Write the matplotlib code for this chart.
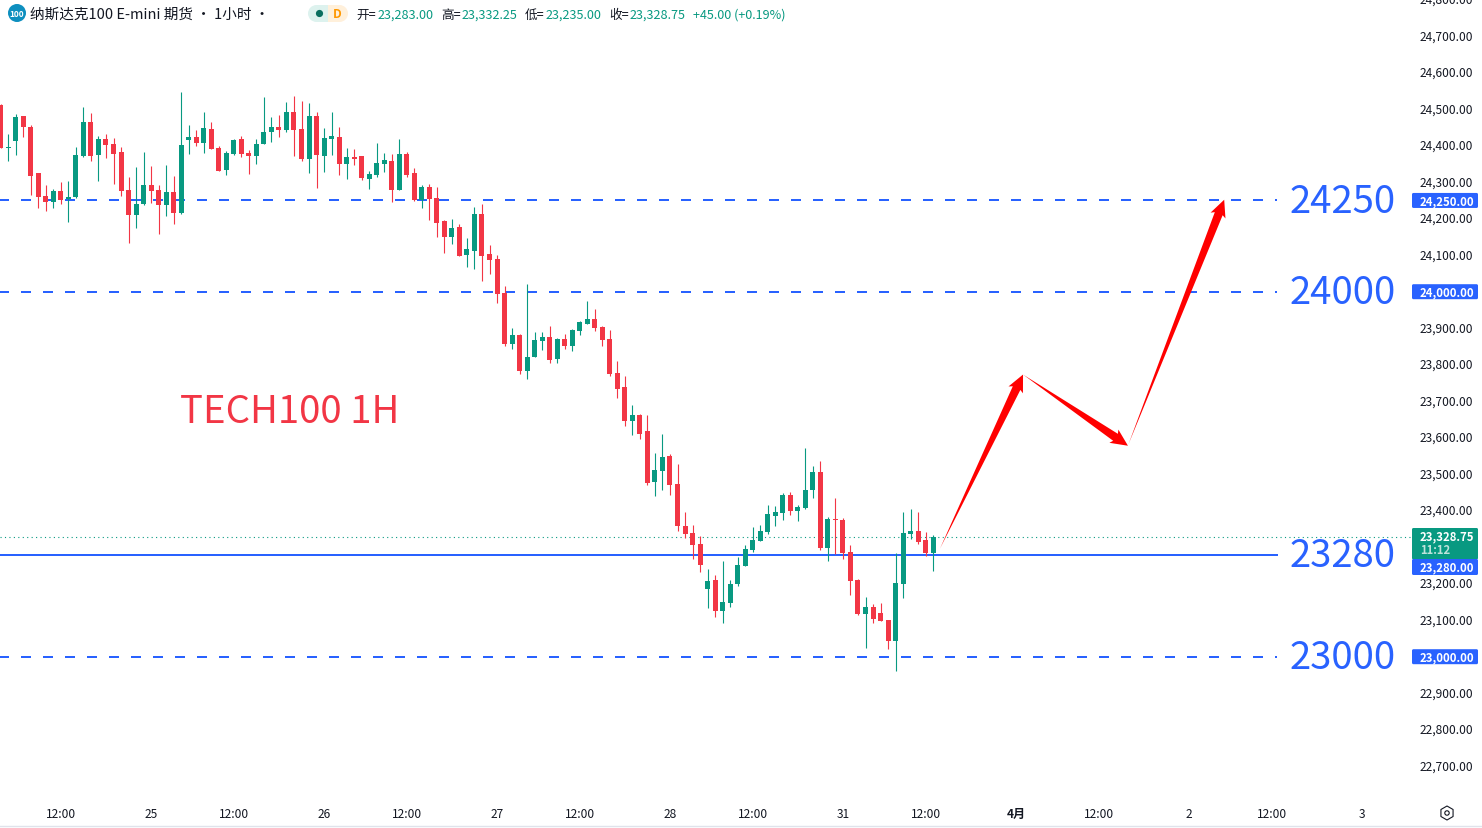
import numpy as np
import matplotlib
matplotlib.use("Agg")
import matplotlib.pyplot as plt
from matplotlib.patches import Rectangle, Polygon, Circle, RegularPolygon, FancyBboxPatch
from matplotlib.transforms import IdentityTransform, ScaledTranslation

plt.rcParams['font.family'] = ['Noto Sans CJK SC', 'DejaVu Sans']

opens = [24512,24394,24414,24482,24452,24326,24263,24247,24277,24255,24260,24373,24466,24375,24419,24405,24384,24279,24211,24241,
         24293,24279,24238,24274,24216,24416,24425,24408,24447,24394,24334,24378,24419,24381,24373,24405,24438,24452,24444,24493,
         24447,24364,24482,24373,24419,24425,24351,24370,24373,24310,24320,24351,24359,24279,24378,24326,24252,24288,24258,24194,
         24151,24178,24101,24112,24214,24104,24090,23997,23858,23882,23784,23822,23866,23877,23816,23871,23852,23893,23912,23926,
         23904,23871,23778,23740,23647,23663,23617,23479,23510,23551,23474,23359,23340,23310,23186,23211,23126,23148,23200,23249,
         23293,23318,23342,23386,23394,23444,23400,23408,23458,23507,23299,23377,23375,23288,23211,23118,23137,23121,23101,23044,
         23200,23337,23345,23321,23283]
highs = [24515,24433,24488,24482,24458,24326,24293,24282,24301,24304,24397,24507,24490,24427,24433,24422,24397,24315,24342,24384,
         24345,24293,24348,24318,24548,24458,24444,24493,24466,24400,24386,24419,24427,24389,24419,24534,24479,24485,24521,24537,
         24523,24518,24493,24449,24493,24452,24394,24392,24373,24332,24408,24381,24378,24419,24384,24340,24293,24296,24288,24197,
         24200,24186,24148,24233,24241,24129,24101,24016,23901,23885,24022,23890,23890,23907,23874,23885,23899,23921,23975,23953,
         23907,23896,23811,23770,23690,23666,23663,23559,23611,23556,23529,23397,23362,23331,23241,23225,23263,23211,23274,23307,
         23356,23362,23416,23414,23449,23452,23416,23573,23523,23537,23384,23436,23381,23307,23214,23164,23145,23148,23101,23285,
         23397,23405,23397,23342,23332.25]
lows = [24394,24359,24375,24425,24266,24230,24222,24230,24241,24192,24258,24370,24359,24304,24367,24296,24263,24134,24175,24238,
        24244,24159,24208,24186,24214,24378,24400,24381,24392,24332,24320,24375,24370,24323,24351,24405,24411,24425,24438,24373,
        24359,24326,24285,24329,24375,24320,24310,24348,24307,24282,24315,24329,24247,24279,24315,24249,24230,24197,24151,24107,
        24131,24099,24068,24063,24030,24049,23970,23852,23844,23775,23762,23822,23841,23806,23806,23844,23838,23882,23912,23893,
        23852,23770,23710,23633,23608,23597,23471,23441,23458,23444,23345,23326,23268,23233,23134,23110,23093,23137,23195,23249,
        23288,23318,23337,23359,23375,23389,23373,23405,23436,23293,23263,23282,23268,23170,23115,23025,23093,23099,23022,22962,
        23162,23323,23310,23277,23235]
closes = [24394,24397,24479,24452,24318,24260,24247,24277,24252,24260,24375,24466,24373,24419,24403,24378,24277,24211,24241,24293,
          24277,24238,24274,24216,24403,24425,24408,24449,24392,24332,24381,24416,24378,24373,24405,24438,24452,24444,24493,24444,
          24364,24482,24375,24422,24427,24351,24370,24364,24312,24323,24353,24362,24279,24378,24320,24252,24288,24255,24189,24151,
          24175,24099,24118,24214,24099,24088,23995,23858,23882,23784,23822,23869,23877,23814,23871,23852,23896,23918,23926,23901,
          23869,23775,23734,23647,23663,23611,23477,23512,23548,23471,23359,23337,23307,23252,23208,23126,23151,23200,23252,23296,
          23321,23345,23392,23397,23444,23400,23411,23458,23507,23299,23378,23375,23285,23208,23118,23137,23104,23099,23044,23203,
          23340,23345,23315,23283,23328.75]

tick_bars = [8,20,31,43,54,66,77,89,100,112,123,135,146,158,169,181]
tick_labels = ['12:00','25','12:00','26','12:00','27','12:00','28','12:00','31','12:00','4月','12:00','2','12:00','3']
price_ticks = np.arange(22700, 24801, 100)
dashed_levels = [24250, 24000, 23000]
solid_level = 23280
last_price = 23328.75
level_labels = [24250, 24000, 23280, 23000]
arrow_bars = [[124.9,135.95],[135.95,149.9],[149.95,162.7]]
arrow_prices = [[23296,23773],[23773,23578],[23581,24252]]

UP, DOWN, BLUE, RED = '#089981', '#F23645', '#2962FF', '#FF0000'
TXT = '#131722'
W, H, AXB, AXR = 1482, 829, 801, 1412
PX = 7.52
X0 = 0.7
Y24K = 292.7
SCALE = 0.365

fig = plt.figure(figsize=(W/100, H/100), dpi=100, facecolor='white')
ax = fig.add_axes([0, 1-AXB/H, AXR/W, AXB/H])
ax.set_xlim(-X0/PX, (AXR-X0)/PX)
ax.set_ylim(24000-(AXB-Y24K)/SCALE, 24000+Y24K/SCALE)
for s in ax.spines.values():
    s.set_visible(False)

x = np.arange(len(opens))
o, h, l, c = map(np.array, (opens, highs, lows, closes))
col = np.where(c >= o, UP, DOWN)
ax.vlines(x, l, h, colors=col, lw=0.8, zorder=3)
ax.bar(x, np.maximum(np.abs(c-o), 2.8), bottom=np.minimum(o, c), width=5/PX, color=col, lw=0, zorder=3)

xend = (1277-X0)/PX
for lv in dashed_levels:
    ax.plot([-X0/PX, xend], [lv, lv], color=BLUE, lw=1.44, ls=(0.5, (5, 6)), dash_capstyle='butt', zorder=2)
ax.plot([-X0/PX, xend], [solid_level]*2, color=BLUE, lw=1.44, zorder=2)
ax.axhline(last_price, color=UP, lw=0.8, ls=(0, (1, 3)), zorder=2)

# tapered arrows
fig.canvas.draw()
for bx, pr in zip(arrow_bars, arrow_prices):
    a, b = ax.transData.transform(np.column_stack([bx, pr]))
    d = (b-a)/np.hypot(*(b-a))
    n = np.array([-d[1], d[0]])
    base = b-d*15
    neck = b-d*17
    pts = [a, base-n*4.2, neck-n*8, b, neck+n*8, base+n*4.2]
    ax.add_patch(Polygon(pts, closed=True, transform=IdentityTransform(), fc=RED, ec='none', zorder=5, clip_on=False))

ax.yaxis.tick_right()
ax.set_yticks(price_ticks, [f'{p:,.2f}' for p in price_ticks])
ax.tick_params(axis='y', length=0, pad=5.4, labelsize=8.6, labelcolor=TXT)
ax.set_xticks(tick_bars, tick_labels)
ax.tick_params(axis='x', length=0, pad=4.8, labelsize=8.6, labelcolor=TXT)
for t, s in zip(ax.get_xticklabels(), tick_labels):
    if s == '4月':
        t.set_fontweight('bold')
shift = ScaledTranslation(0, 1.2/72, fig.dpi_scale_trans)
for tk in ax.yaxis.get_major_ticks():
    tk.label2.set_transform(tk.label2.get_transform() + shift)

ytr = ax.get_yaxis_transform()
for lv in level_labels:
    ax.annotate(str(lv), xy=(1290/AXR, lv), xycoords=ytr, xytext=(0, -0.8), textcoords='offset pixels',
                color=BLUE, fontsize=27.6, va='center', ha='left', zorder=6)
ax.annotate('TECH100 1H', xy=(180/AXR, 24000+(Y24K-408)/SCALE), xycoords=ytr, xytext=(0, -4), textcoords='offset pixels',
            color=DOWN, fontsize=27.6, va='center', ha='left', zorder=6)

# overlay in pixel space for the price tags and header
ov = fig.add_axes([0, 0, 1, 1], zorder=10)
ov.set_xlim(0, W)
ov.set_ylim(H, 0)
ov.axis('off')
ov.patch.set_alpha(0)

def tag(y0, y1, fc):
    ov.add_patch(FancyBboxPatch((1412, y0), 66, y1-y0, boxstyle='round,pad=0,rounding_size=1.5', fc=fc, ec='none'))
def tagtext(yc, s, color='white'):
    ov.text(1420, yc, s, color=color, fontsize=8.2, fontweight='bold', va='center', ha='left')
for lv in dashed_levels:
    yc = Y24K+(24000-lv)*SCALE
    tag(yc-7.5, yc+7.5, BLUE)
    tagtext(yc, f'{lv:,.2f}')
tag(529, 560.5, UP)
tag(560, 576, BLUE)
tagtext(537, f'{last_price:,.2f}')
tagtext(551, '11:12', color='#BFE3DB')
tagtext(568, f'{solid_level:,.2f}')

ov.plot([0, W], [827, 827], color='#E0E3EB', lw=1)
ov.add_patch(Circle((17, 14), 9, fc='#0E8FBF', ec='none'))
ov.text(17, 14, '100', color='white', fontsize=6, fontweight='bold', ha='center', va='center')
ov.text(30, 15, '纳斯达克100 E-mini 期货 · 1小时 ·', color=TXT, fontsize=10.5, ha='left', va='center')
ov.add_patch(Circle((316.5, 14.5), 8.5, fc='#DDF2EE', ec='none'))
ov.add_patch(Rectangle((316, 6), 12, 17, fc='#DDF2EE', ec='none'))
ov.add_patch(Circle((339.5, 14.5), 8.5, fc='#FFF0DB', ec='none'))
ov.add_patch(Rectangle((328, 6), 12, 17, fc='#FFF0DB', ec='none'))
ov.add_patch(Circle((319.5, 14.5), 3.6, fc='#0B6F5F', ec='none'))
ov.text(337, 14.5, 'D', color='#FF9800', fontsize=8.8, fontweight='bold', ha='center', va='center')
for xp, s, cl in [(356, '开=', TXT), (377.5, '23,283.00', UP), (441, '高=', TXT), (461.5, '23,332.25', UP),
                  (525, '低=', TXT), (545.5, '23,235.00', UP), (609, '收=', TXT), (629.5, '23,328.75', UP),
                  (693, '+45.00 (+0.19%)', UP)]:
    ov.text(xp, 15, s, color=cl, fontsize=9.1, ha='left', va='center')
ov.add_patch(RegularPolygon((1447, 814), 6, radius=7, orientation=np.pi/3, fc='none', ec=TXT, lw=0.8))
ov.add_patch(Circle((1447, 814), 2.2, fc='none', ec=TXT, lw=0.8))

fig.savefig('out.png', dpi=100)
